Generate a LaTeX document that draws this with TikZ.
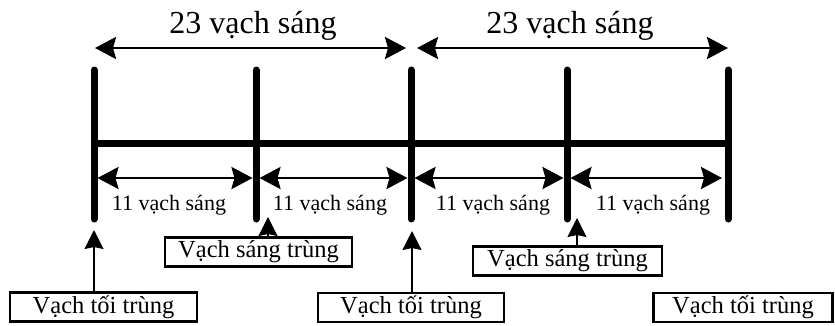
\documentclass[tikz,border=0pt]{standalone}
\usepackage{fontspec}
\setmainfont{Liberation Serif}
\usetikzlibrary{arrows.meta}
\begin{document}
\begin{tikzpicture}[x=1pt,y=-1pt,
  bar/.style={line width=7pt,line cap=round},
  rail/.style={line width=7pt},
  tip/.style={Stealth[length=21pt,width=22pt,inset=3pt]},
  span/.style={line width=2.8pt,{Stealth[length=21pt,width=22pt,inset=3pt]}-{Stealth[length=21pt,width=22pt,inset=3pt]}},
  point/.style={line width=1.6pt,-{Stealth[length=19pt,width=19pt,inset=2pt]}},
  big/.style={font=\fontsize{32}{36}\selectfont,anchor=base},
  small/.style={font=\fontsize{22}{25}\selectfont,anchor=base},
  tag/.style={draw,line width=2.2pt,inner sep=0pt,font=\fontsize{24.5}{28}\selectfont,minimum height=29pt}]
\useasboundingbox (0,0) rectangle (835,325);

% vertical markers
\foreach \i/\x in {1/94,2/256,3/411,4/567,5/728}{
  \coordinate (t\i) at (\x,70);
  \coordinate (b\i) at (\x,219);
  \coordinate (m\i) at (\x,178);
}
\draw[rail] (94,143) -- (728,143);
\foreach \i in {1,...,5} \draw[bar] (t\i) -- (b\i);

% 23-line spans
\coordinate (a1) at (95,48);
\coordinate (a2) at (406,48);
\coordinate (a3) at (417,48);
\coordinate (a4) at (728,48);
\draw[span] (a1) -- (a2);
\draw[span] (a3) -- (a4);
\node[big] (n23a) at (253,33) {23 vạch sáng};
\node[big] (n23b) at (570,33) {23 vạch sáng};

% 11-line spans
\draw[span] ([xshift=3.5pt]m1) -- ([xshift=-3.5pt]m2);
\draw[span] ([xshift=3.5pt]m2) -- ([xshift=-3.5pt]m3);
\draw[span] ([xshift=3.5pt]m3) -- ([xshift=-3.5pt]m4);
\draw[span] ([xshift=3.5pt]m4) -- (722,178);
\node[small] (n11a) at (169,210) {11 vạch sáng};
\node[small] (n11b) at (330,210) {11 vạch sáng};
\node[small] (n11c) at (493,210) {11 vạch sáng};
\node[small] (n11d) at (653,210) {11 vạch sáng};

% labelled boxes
\node[tag,minimum width=187pt] (s1) at (258.5,252) {Vạch sáng trùng};
\node[tag,minimum width=189pt] (s2) at (567.5,261) {Vạch sáng trùng};
\node[tag,minimum width=187pt] (d1) at (103.5,307) {Vạch tối trùng};
\node[tag,minimum width=186pt] (d2) at (411,307.5) {Vạch tối trùng};
\node[tag,minimum width=179pt] (d3) at (743,307.5) {Vạch tối trùng};

% pointers
\coordinate (ps1) at (268,217);
\coordinate (ps2) at (577,218);
\coordinate (pd1) at (94,230);
\coordinate (pd3) at (412,231);
\draw[point] (s1.north -| ps1) -- (ps1);
\draw[point] (s2.north -| ps2) -- (ps2);
\draw[point] (d1.north -| pd1) -- (pd1);
\draw[point] (d2.north -| pd3) -- (pd3);
\end{tikzpicture}
\end{document}
